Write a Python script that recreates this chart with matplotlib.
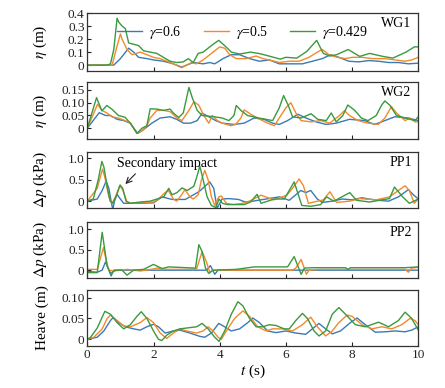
import numpy as np
import matplotlib
matplotlib.use("Agg")
import matplotlib.pyplot as plt

plt.rcParams['font.family'] = ['Liberation Serif', 'DejaVu Serif']
plt.rcParams['mathtext.fontset'] = 'stix'

# ---- data (time in s) ----
labels = [r'$\gamma$=0.6', r'$\gamma$=0.5', r'$\gamma$=0.429']
colors = ['#3a7ab5', '#f28a2c', '#3a9a3e']

# WG1 wave elevation (m)
wg1_t_b = [0, 0.8, 1.0, 1.25, 1.4, 1.55, 1.8, 2.0, 2.3, 2.6, 2.85, 3.0, 3.2, 3.5, 3.7, 3.85, 4.1, 4.35, 4.6, 4.9, 5.2, 5.5, 5.8, 6.2, 6.5, 6.8, 7.1, 7.35, 7.6, 7.9, 8.2, 8.5, 8.8, 9.1, 9.4, 9.7, 10]
wg1_b = [0, 0, 0.05, 0.13, 0.10, 0.06, 0.05, 0.04, 0.03, 0.01, -0.015, 0.0, 0.02, 0.01, 0.02, 0.01, 0.05, 0.08, 0.08, 0.05, 0.03, 0.04, 0.01, 0.01, 0.01, 0.03, 0.05, 0.08, 0.06, 0.03, 0.025, 0.035, 0.03, 0.02, 0.02, 0.01, 0.015]
wg1_t_o = [0, 0.75, 0.85, 1.0, 1.05, 1.2, 1.35, 1.6, 1.8, 2.0, 2.2, 2.4, 2.6, 2.85, 3.0, 3.15, 3.3, 3.5, 3.6, 3.8, 4.0, 4.15, 4.3, 4.5, 4.8, 5.1, 5.3, 5.5, 5.8, 6.1, 6.4, 6.7, 6.95, 7.1, 7.3, 7.55, 7.8, 8.0, 8.3, 8.6, 9.0, 9.3, 9.6, 9.8, 10]
wg1_o = [0, 0, 0.1, 0.24, 0.2, 0.12, 0.08, 0.1, 0.08, 0.06, 0.05, 0.03, 0.01, -0.02, 0.0, 0.02, 0.01, 0.04, 0.06, 0.1, 0.14, 0.13, 0.08, 0.05, 0.05, 0.07, 0.05, 0.04, 0.02, 0.03, 0.03, 0.06, 0.1, 0.12, 0.08, 0.06, 0.05, 0.06, 0.06, 0.05, 0.05, 0.04, 0.03, 0.04, 0.06]
wg1_t_g = [0, 0.6, 0.7, 0.8, 0.9, 0.95, 1.05, 1.15, 1.25, 1.4, 1.55, 1.7, 1.9, 2.1, 2.3, 2.5, 2.7, 2.9, 3.05, 3.2, 3.35, 3.5, 3.65, 3.8, 3.97, 4.15, 4.35, 4.6, 4.93, 5.23, 5.53, 5.83, 6.0, 6.33, 6.63, 6.93, 7.13, 7.33, 7.53, 7.88, 8.23, 8.53, 8.93, 9.23, 9.63, 9.88, 10]
wg1_g = [0, 0, 0.01, 0.12, 0.36, 0.33, 0.30, 0.28, 0.17, 0.16, 0.15, 0.11, 0.10, 0.09, 0.06, 0.03, 0.02, 0.025, 0.05, 0.02, 0.09, 0.10, 0.13, 0.16, 0.19, 0.15, 0.10, 0.085, 0.1, 0.087, 0.067, 0.046, 0.06, 0.054, 0.105, 0.19, 0.09, 0.07, 0.08, 0.12, 0.067, 0.09, 0.067, 0.054, 0.1, 0.14, 0.14]

# WG2 wave elevation (m)
wg2_t_b = [0, 0.36, 0.55, 0.7, 0.9, 1.1, 1.3, 1.52, 1.65, 1.8, 1.95, 2.2, 2.5, 2.7, 2.91, 3.12, 3.32, 3.47, 3.67, 3.88, 4.08, 4.43, 4.74, 5.04, 5.34, 5.6, 5.8, 6.05, 6.36, 6.61, 6.91, 7.22, 7.52, 7.92, 8.38, 8.68, 8.99, 9.29, 9.7, 10]
wg2_b = [0, 0.061, 0.05, 0.05, 0.035, 0.03, 0.02, -0.02, -0.01, 0.005, 0.02, 0.04, 0.045, 0.035, 0.02, 0.02, 0.03, 0.059, 0.045, 0.03, 0.02, 0.015, 0.02, 0.04, 0.035, 0.02, 0.015, 0.03, 0.055, 0.04, 0.025, 0.015, 0.02, 0.035, 0.03, 0.015, 0.03, 0.045, 0.04, 0.03]
wg2_t_o = [0, 0.31, 0.44, 0.59, 0.74, 0.94, 1.14, 1.3, 1.5, 1.65, 1.8, 1.9, 2.1, 2.3, 2.5, 2.71, 2.86, 3.07, 3.22, 3.37, 3.52, 3.67, 3.78, 3.93, 4.08, 4.33, 4.48, 4.64, 4.74, 4.94, 5.14, 5.45, 5.65, 5.8, 6.0, 6.15, 6.3, 6.46, 6.76, 7.06, 7.32, 7.62, 7.77, 7.92, 8.18, 8.48, 8.79, 8.99, 9.19, 9.34, 9.6, 9.75, 9.9, 10]
wg2_o = [0, 0.094, 0.07, 0.06, 0.045, 0.04, 0.03, 0.02, -0.02, -0.01, 0.01, 0.04, 0.07, 0.07, 0.065, 0.04, 0.03, 0.07, 0.104, 0.09, 0.05, 0.02, 0.05, 0.03, 0.02, 0.01, 0.015, 0.04, 0.072, 0.055, 0.04, 0.02, 0.01, 0.04, 0.08, 0.1, 0.06, 0.03, 0.025, 0.03, 0.02, 0.05, 0.069, 0.05, 0.03, 0.02, 0.015, 0.04, 0.085, 0.06, 0.03, 0.04, 0.025, 0.025]
wg2_t_g = [0, 0.28, 0.44, 0.59, 0.74, 0.94, 1.14, 1.3, 1.5, 1.65, 1.8, 1.9, 2.1, 2.3, 2.5, 2.6, 2.76, 2.9, 3.07, 3.17, 3.32, 3.47, 3.83, 4.08, 4.28, 4.43, 4.5, 4.64, 4.84, 5.19, 5.6, 5.8, 5.93, 6.07, 6.2, 6.46, 6.76, 6.96, 7.22, 7.37, 7.52, 7.72, 7.87, 8.08, 8.28, 8.48, 8.73, 8.89, 8.99, 9.14, 9.34, 9.6, 9.9, 10]
wg2_g = [0, 0.12, 0.068, 0.089, 0.075, 0.05, 0.043, 0.02, -0.02, 0.0, 0.01, 0.076, 0.075, 0.07, 0.075, 0.06, 0.042, 0.06, 0.16, 0.12, 0.07, 0.05, 0.045, 0.04, 0.03, 0.05, 0.089, 0.07, 0.05, 0.04, 0.03, 0.08, 0.128, 0.09, 0.045, 0.04, 0.057, 0.035, 0.03, 0.06, 0.025, 0.05, 0.091, 0.07, 0.04, 0.03, 0.05, 0.09, 0.107, 0.09, 0.05, 0.04, 0.03, 0.045]

# PP1 pressure (kPa)
pp1_t_b = [0, 0.3, 0.45, 0.57, 0.65, 0.72, 0.77, 0.82, 0.9, 1.0, 1.1, 1.5, 2.0, 2.26, 2.56, 2.96, 3.37, 3.7, 3.82, 3.92, 4.07, 4.27, 4.57, 4.77, 5.0, 5.4, 5.8, 6.1, 6.3, 6.45, 6.6, 6.75, 6.95, 7.1, 7.4, 7.7, 8.0, 8.3, 8.5, 8.8, 9.1, 9.4, 9.7, 9.85, 10]
pp1_b = [0, 0.05, 0.25, 0.47, 0.3, 0.0, -0.2, 0.0, 0.16, 0.05, -0.05, -0.05, -0.04, 0.1, 0.04, 0.04, 0.22, 0.45, 0.3, -0.17, 0.05, 0.06, 0.04, -0.02, 0.0, 0.05, 0.1, 0.02, 0.15, 0.25, 0.2, 0.25, 0.05, -0.03, 0.0, 0.05, 0.03, 0.08, 0.05, 0.02, 0.0, 0.1, 0.27, 0.15, 0.05]
pp1_t_o = [0, 0.3, 0.46, 0.55, 0.65, 0.75, 0.85, 0.98, 1.08, 1.2, 1.35, 1.7, 2.0, 2.15, 2.35, 2.45, 2.6, 2.7, 2.85, 2.95, 3.1, 3.2, 3.35, 3.45, 3.55, 3.65, 3.75, 3.85, 3.97, 4.05, 4.2, 4.4, 4.7, 4.9, 5.25, 5.63, 6.03, 6.2, 6.4, 6.53, 6.68, 7.13, 7.33, 7.53, 7.93, 8.23, 8.73, 9.13, 9.6, 9.73, 9.88, 10]
pp1_o = [0, 0.3, 0.75, 0.5, 0.1, -0.05, 0.1, 0.36, 0.25, -0.02, -0.05, -0.03, -0.02, 0.05, 0.2, 0.25, 0.05, 0.0, 0.15, 0.27, 0.1, 0.05, 0.15, 0.5, 0.72, 0.5, 0.1, -0.1, 0.1, 0.12, -0.05, -0.08, -0.05, 0.0, 0.14, 0.03, 0.14, 0.3, 0.52, 0.36, -0.05, 0.03, 0.22, -0.03, 0.0, 0.06, 0.03, 0.1, 0.36, 0.25, -0.05, 0.05]
pp1_t_g = [0, 0.18, 0.33, 0.44, 0.5, 0.61, 0.69, 0.77, 0.89, 0.99, 1.07, 1.17, 1.3, 1.6, 1.9, 2.1, 2.31, 2.46, 2.56, 2.71, 2.86, 3.02, 3.22, 3.32, 3.4, 3.5, 3.62, 3.75, 3.88, 3.98, 4.08, 4.23, 4.43, 4.74, 4.93, 5.13, 5.25, 5.65, 5.95, 6.1, 6.25, 6.48, 6.76, 7.05, 7.23, 7.45, 7.93, 8.13, 8.53, 9.13, 9.28, 9.53, 9.73, 10]
pp1_g = [0, 0.05, 0.5, 0.93, 0.8, 0.3, 0.0, -0.05, 0.15, 0.38, 0.3, 0.0, -0.05, -0.02, 0.0, 0.05, 0.1, 0.3, 0.15, 0.2, 0.31, 0.25, 0.35, 0.6, 0.82, 0.5, 0.1, -0.1, -0.15, 0.05, -0.05, -0.08, -0.08, -0.08, -0.02, 0.16, -0.05, 0.05, 0.05, 0.25, 0.45, -0.1, -0.12, -0.08, 0.1, 0.0, 0.2, 0.02, -0.02, 0.06, 0.33, 0.1, -0.05, 0.05]

# PP2 pressure (kPa)
pp2_t_b = [0, 0.3, 0.45, 0.55, 0.63, 0.72, 0.8, 1.0, 3.6, 3.72, 3.85, 3.95, 4.2, 10]
pp2_b = [-0.03, -0.05, 0.0, 0.2, 0.05, -0.14, 0.0, 0.0, 0.0, 0.11, -0.1, 0.0, 0.0, 0.0]
pp2_t_o = [0, 0.3, 0.4, 0.49, 0.58, 0.65, 0.8, 1.2, 1.6, 2.0, 2.1, 2.4, 3.0, 3.3, 3.47, 3.6, 3.7, 3.8, 6.2, 6.3, 6.46, 6.62, 6.7, 7.0, 9.6, 9.7, 9.8, 10]
pp2_o = [0.02, 0.02, 0.3, 0.55, 0.2, 0.0, -0.02, 0.02, -0.02, 0.03, 0.05, 0.02, 0.02, 0.03, 0.45, 0.2, -0.05, 0.0, 0.0, 0.05, 0.26, -0.1, 0.0, 0.02, 0.02, -0.05, 0.05, 0.07]
pp2_t_g = [0, 0.3, 0.37, 0.45, 0.6, 0.7, 0.85, 1.05, 1.2, 1.4, 1.7, 2.0, 2.26, 2.46, 3.27, 3.37, 3.47, 3.57, 3.67, 3.8, 4.5, 5.04, 6.05, 6.25, 6.46, 6.56, 6.8, 7.8, 7.87, 7.95, 9.6, 10]
pp2_g = [-0.06, -0.06, 0.4, 0.92, 0.1, -0.08, 0.0, 0.0, -0.12, 0.0, 0.02, 0.14, 0.04, 0.08, 0.05, 0.62, 0.45, 0.05, -0.08, 0.0, 0.02, 0.08, 0.08, 0.33, -0.1, 0.05, 0.06, 0.06, 0.02, 0.06, 0.06, 0.08]

# Heave (m)
hv_t_b = [0, 0.3, 0.5, 0.7, 0.78, 0.95, 1.15, 1.4, 1.6, 1.8, 2.0, 2.15, 2.35, 2.6, 2.8, 3.1, 3.4, 3.55, 3.75, 3.97, 4.15, 4.35, 4.6, 4.85, 5.0, 5.2, 5.45, 5.7, 6.0, 6.3, 6.6, 6.8, 7.0, 7.2, 7.4, 7.65, 7.95, 8.15, 8.4, 8.7, 9.0, 9.3, 9.6, 9.8, 10]
hv_b = [0, 0.005, 0.02, 0.045, 0.052, 0.04, 0.03, 0.025, 0.022, 0.03, 0.036, 0.03, 0.015, 0.02, 0.022, 0.015, 0.007, 0.005, 0.015, 0.038, 0.03, 0.02, 0.025, 0.04, 0.051, 0.04, 0.02, 0.016, 0.02, 0.015, 0.012, 0.025, 0.038, 0.025, 0.013, 0.02, 0.04, 0.051, 0.035, 0.017, 0.018, 0.02, 0.018, 0.022, 0.03]
hv_t_o = [0, 0.2, 0.45, 0.6, 0.7, 0.9, 1.1, 1.3, 1.6, 1.8, 2.0, 2.2, 2.4, 2.6, 2.8, 3.0, 3.3, 3.5, 3.65, 3.8, 3.95, 4.05, 4.2, 4.45, 4.7, 4.9, 5.15, 5.4, 5.6, 5.9, 6.2, 6.5, 6.75, 6.95, 7.2, 7.4, 7.6, 7.85, 8.0, 8.3, 8.6, 8.9, 9.2, 9.5, 9.75, 9.9, 10]
hv_o = [0, 0.005, 0.025, 0.05, 0.058, 0.045, 0.032, 0.03, 0.04, 0.052, 0.04, 0.015, 0.002, 0.015, 0.025, 0.02, 0.015, 0.02, 0.03, 0.02, 0.005, 0.0, 0.02, 0.05, 0.068, 0.055, 0.03, 0.02, 0.025, 0.025, 0.02, 0.035, 0.053, 0.03, 0.008, 0.02, 0.04, 0.058, 0.055, 0.035, 0.025, 0.03, 0.025, 0.035, 0.05, 0.045, 0.035]
hv_t_g = [0, 0.1, 0.3, 0.53, 0.7, 0.9, 1.1, 1.3, 1.5, 1.63, 1.8, 2.0, 2.15, 2.25, 2.4, 2.6, 2.8, 3.1, 3.3, 3.47, 3.65, 3.85, 3.98, 4.15, 4.35, 4.55, 4.7, 4.9, 5.1, 5.3, 5.5, 5.7, 5.95, 6.1, 6.3, 6.5, 6.65, 6.85, 7.0, 7.2, 7.4, 7.6, 7.8, 8.1, 8.4, 8.8, 9.1, 9.4, 9.6, 9.8, 10]
hv_g = [0, 0.005, 0.027, 0.067, 0.06, 0.04, 0.025, 0.035, 0.055, 0.066, 0.05, 0.02, 0.0, -0.003, 0.01, 0.02, 0.025, 0.028, 0.03, 0.038, 0.025, 0.005, -0.005, 0.02, 0.06, 0.09, 0.08, 0.05, 0.03, 0.03, 0.035, 0.033, 0.025, 0.025, 0.045, 0.062, 0.05, 0.02, 0.008, 0.02, 0.06, 0.076, 0.06, 0.035, 0.03, 0.041, 0.03, 0.045, 0.065, 0.05, 0.022]

panels = [
    ([(wg1_t_b, wg1_b), (wg1_t_o, wg1_o), (wg1_t_g, wg1_g)], 'WG1', r'$\eta$ (m)',
     (-0.045, 0.4), [0, 0.1, 0.2, 0.3, 0.4], ['0', '0.1', '0.2', '0.3', '0.4']),
    ([(wg2_t_b, wg2_b), (wg2_t_o, wg2_o), (wg2_t_g, wg2_g)], 'WG2', r'$\eta$ (m)',
     (-0.042, 0.181), [0, 0.05, 0.10, 0.15], ['0', '0.05', '0.10', '0.15']),
    ([(pp1_t_b, pp1_b), (pp1_t_o, pp1_o), (pp1_t_g, pp1_g)], 'PP1', r'$\Delta p$ (kPa)',
     (-0.16, 1.15), [0, 0.5, 1.0], ['0', '0.5', '1.0']),
    ([(pp2_t_b, pp2_b), (pp2_t_o, pp2_o), (pp2_t_g, pp2_g)], 'PP2', r'$\Delta p$ (kPa)',
     (-0.19, 1.17), [0, 0.5, 1.0], ['0', '0.5', '1.0']),
    ([(hv_t_b, hv_b), (hv_t_o, hv_o), (hv_t_g, hv_g)], None, 'Heave (m)',
     (-0.016, 0.118), [0, 0.05, 0.10], ['0', '0.05', '0.10']),
]

W, H = 445, 388
fig = plt.figure(figsize=(W / 100, H / 100), dpi=100)
tops = [13, 82, 152, 222, 290]
bots = [71, 139, 208, 278, 346]
x0, x1 = 87.3, 418.3

axes = []
for i, (series, tag, ylab, ylim, yt, ytl) in enumerate(panels):
    ax = fig.add_axes([x0 / W, 1 - bots[i] / H, (x1 - x0) / W, (bots[i] - tops[i]) / H])
    for (tt, yy), c, lab in zip(series, colors, labels):
        ax.plot(tt, yy, color=c, lw=1.0, label=lab)
    ax.set_xlim(0, 10)
    ax.set_ylim(*ylim)
    ax.set_yticks(yt)
    ax.set_yticklabels(ytl)
    ax.set_xticks([0, 2, 4, 6, 8, 10])
    ax.tick_params(direction='in', length=3, width=0.8, labelsize=9.5, colors='#222222', pad=2)
    if i < 4:
        ax.tick_params(labelbottom=False)
    for s in ax.spines.values():
        s.set_linewidth(0.9)
        s.set_color('#333333')
    ax.set_ylabel(ylab, fontsize=11)
    ax.yaxis.set_label_coords(-0.115, 0.5)
    if tag:
        ax.text(0.98, 0.82, tag, transform=ax.transAxes, ha='right', va='center', fontsize=10)
    axes.append(ax)

axes[0].legend(loc='upper center', bbox_to_anchor=(0.47, 1.03), ncol=3, frameon=False,
               fontsize=10, handlelength=1.8, columnspacing=1.6, handletextpad=0.5)
axes[2].annotate('Secondary impact', xy=(1.15, 0.4), xytext=(0.9, 0.88),
                 fontsize=10, va='center',
                 arrowprops=dict(arrowstyle='->', color='#222222', lw=0.8,
                                 shrinkA=1, shrinkB=0, relpos=(0.22, 0.0)))
axes[4].set_xlabel(r'$t$ (s)', fontsize=11, labelpad=1)

fig.savefig('out.png', dpi=100)
